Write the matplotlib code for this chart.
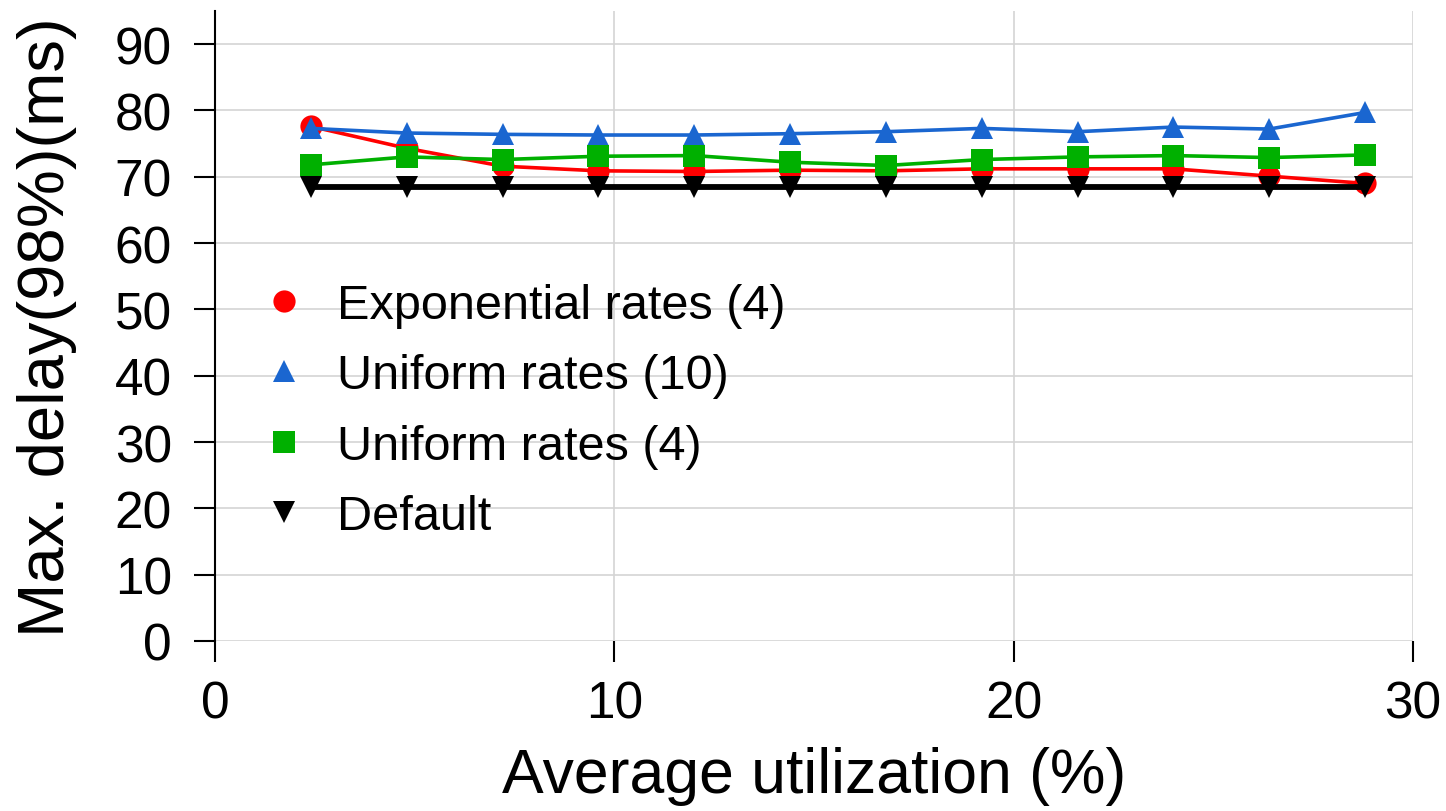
import matplotlib
matplotlib.use("Agg")
import matplotlib.pyplot as plt
from matplotlib.lines import Line2D

plt.rcParams['font.family'] = ['Liberation Sans', 'DejaVu Sans']

# utilization (%) on the x axis
util = [2.4, 4.8, 7.2, 9.6, 12.0, 14.4, 16.8, 19.2, 21.6, 24.0, 26.4, 28.8]

# max delay (98th percentile), ms
exp_rates4 = [77.6, 74.3, 71.6, 70.9, 70.8, 71.0, 70.9, 71.2, 71.2, 71.2, 70.1, 69.0]
uni_rates10 = [77.3, 76.6, 76.4, 76.3, 76.3, 76.5, 76.8, 77.3, 76.8, 77.5, 77.2, 79.7]
uni_rates4 = [71.8, 73.0, 72.6, 73.1, 73.2, 72.2, 71.7, 72.6, 73.0, 73.2, 72.9, 73.3]
default = [68.4, 68.4, 68.4, 68.4, 68.4, 68.4, 68.4, 68.4, 68.4, 68.4, 68.4, 68.4]

labels = ["Exponential rates (4)", "Uniform rates (10)", "Uniform rates (4)", "Default"]
colors = ["#ff0000", "#1a66d0", "#00b000", "#000000"]
markers = ["o", "^", "s", "v"]

fig = plt.figure(figsize=(14.46, 8.12), dpi=100)
ax = fig.add_axes([0.1487, 0.2094, 0.8285, 0.7758])

series = [exp_rates4, uni_rates10, uni_rates4, default]
widths = [2.6, 2.6, 2.6, 4.2]
for ys, c, m, lw in zip(series, colors, markers, widths):
    ax.plot(util, ys, color=c, marker=m, markersize=16, lw=lw,
            markeredgewidth=0, clip_on=False)

ax.set_xlim(0, 30)
ax.set_ylim(0, 95)
ax.set_xticks([0, 10, 20, 30])
ax.set_yticks(range(0, 100, 10))
ax.grid(True, color="#d4d4d4", lw=1.2)
ax.set_axisbelow(True)

for s in ["top", "right", "bottom"]:
    ax.spines[s].set_visible(False)
ax.spines["left"].set_linewidth(1.5)
ax.tick_params(axis="both", direction="out", length=15, width=1.5,
               labelsize=37, color="black")
ax.tick_params(axis="y", pad=16)
ax.tick_params(axis="x", pad=13)

ax.set_xlabel("Average utilization (%)", fontsize=45, labelpad=12)
ax.set_ylabel("Max. delay(98%)(ms)", fontsize=47, labelpad=27)

handles = [Line2D([], [], color=c, marker=m, markersize=16, linestyle="none",
                  markeredgewidth=0) for c, m in zip(colors, markers)]
ax.legend(handles, labels, loc="upper left", bbox_to_anchor=(0.037, 0.568),
          frameon=False, fontsize=35, handlelength=1.0, handletextpad=0.6,
          labelspacing=0.52, borderpad=0, borderaxespad=0)

fig.savefig("out.png", dpi=100)
